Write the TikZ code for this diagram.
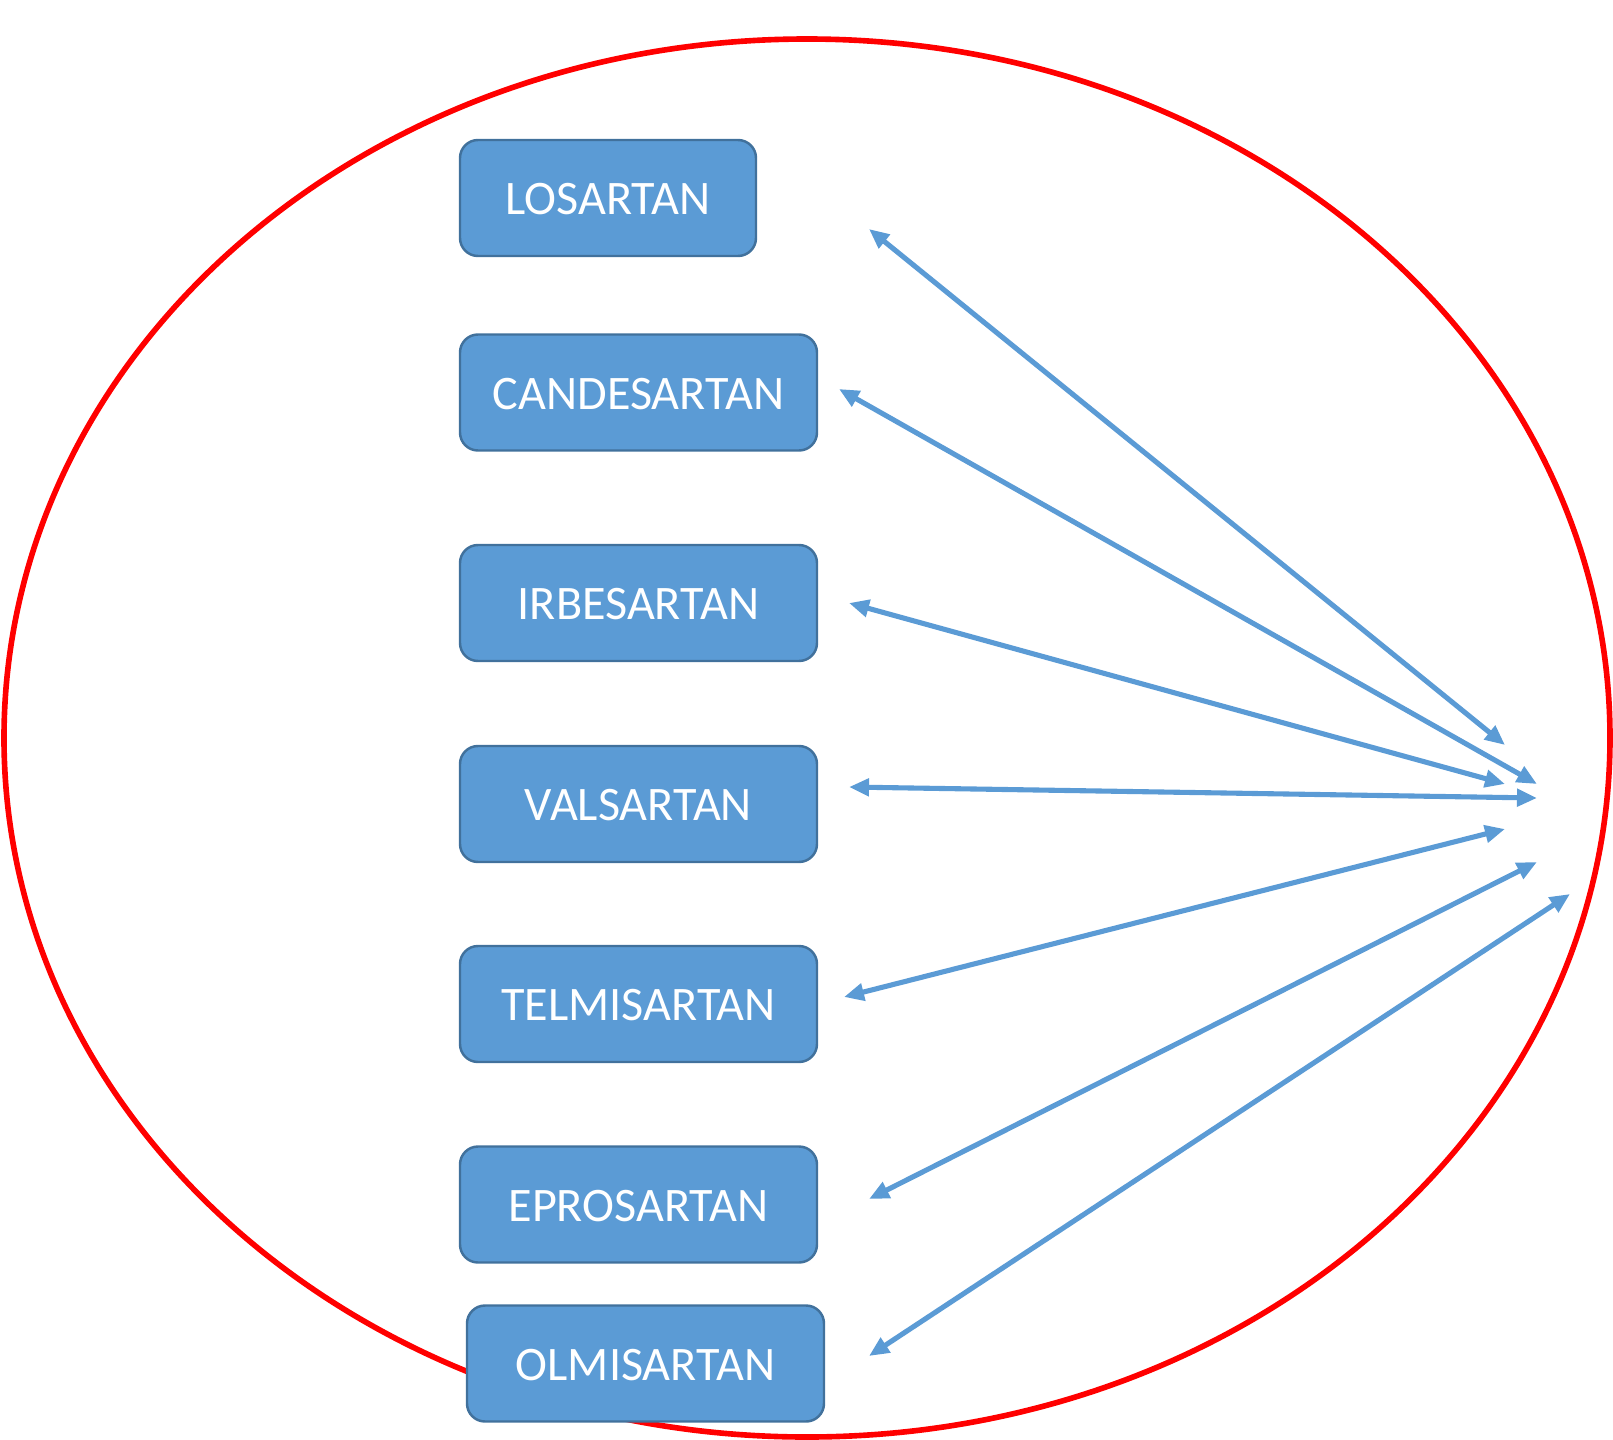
\documentclass[tikz,border=0pt]{standalone}
\usepackage{fontspec}
\setmainfont{Carlito}
\usetikzlibrary{arrows.meta}
\definecolor{boxblue}{HTML}{5B9BD5}
\definecolor{boxedge}{HTML}{41719C}

\begin{document}
\begin{tikzpicture}[
		drugbox/.style={draw=boxedge, line width=0.7pt, fill=boxblue, rounded corners=0.18cm,
			minimum height=1.16cm, minimum width=3.57cm, text=white, inner sep=0pt,
			text height=0.33cm, text depth=0pt, font=\fontsize{13.7}{16}\selectfont},
		link/.style={line width=1.45pt, color=boxblue, {Triangle[length=0.2cm,width=0.17cm]}-{Triangle[length=0.2cm,width=0.17cm]}}
	]
		%%%%% START %%%%%
		\useasboundingbox (0, 0) rectangle (16.13, -14.40);
		
		\draw[line width=1.6pt, color=red] (8.07, -7.38) ellipse (8.03 and 6.99);
		
		\node[drugbox, minimum width=2.96cm] (losartan) at (6.08, -1.98) {LOSARTAN};
		\node[drugbox] (candesartan) at (6.385, -3.925) {CANDESARTAN};
		\node[drugbox] (irbesartan) at (6.385, -6.03) {IRBESARTAN};
		\node[drugbox] (valsartan) at (6.385, -8.04) {VALSARTAN};
		\node[drugbox] (telmisartan) at (6.385, -10.04) {TELMISARTAN};
		\node[drugbox] (eprosartan) at (6.385, -12.045) {EPROSARTAN};
		\node[drugbox] (olmisartan) at (6.455, -13.635) {OLMISARTAN};
		
		\coordinate (losL) at (8.69, -2.29);
		\coordinate (losR) at (15.05, -7.45);
		\coordinate (canL) at (8.39, -3.89);
		\coordinate (canR) at (15.37, -7.84);
		\coordinate (irbL) at (8.49, -6.03);
		\coordinate (irbR) at (15.05, -7.84);
		\coordinate (valL) at (8.49, -7.87);
		\coordinate (valR) at (15.37, -7.98);
		\coordinate (telL) at (8.44, -9.97);
		\coordinate (telR) at (15.05, -8.29);
		\coordinate (eprL) at (8.69, -11.99);
		\coordinate (eprR) at (15.37, -8.62);
		\coordinate (olmL) at (8.69, -13.56);
		\coordinate (olmR) at (15.70, -8.94);
		
		\draw[link] (losL) -- (losR);
		\draw[link] (canL) -- (canR);
		\draw[link] (irbL) -- (irbR);
		\draw[link] (valL) -- (valR);
		\draw[link] (telL) -- (telR);
		\draw[link] (eprL) -- (eprR);
		\draw[link] (olmL) -- (olmR);
		
		%%%%% END %%%%%
	\end{tikzpicture}
\end{document}
